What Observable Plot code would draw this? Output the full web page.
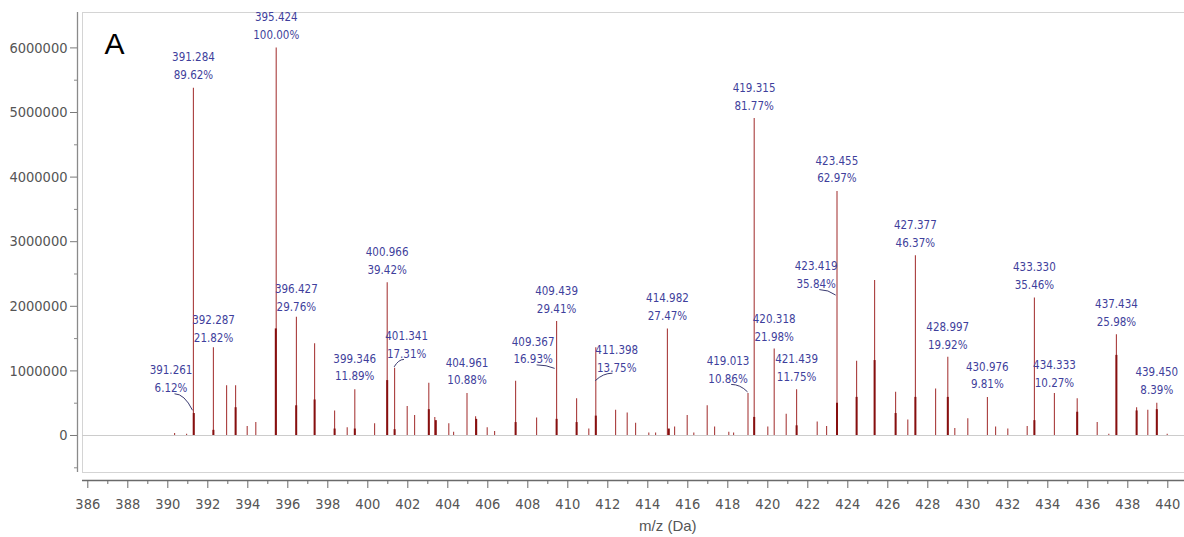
<!DOCTYPE html>
<html><head><meta charset="utf-8">
<script src="https://cdn.jsdelivr.net/npm/d3@7"></script>
<script src="https://cdn.jsdelivr.net/npm/@observablehq/plot@0.6"></script>
<style>
html,body{margin:0;padding:0;background:#fff;}
#chart{width:1184px;height:537px;overflow:hidden;}
</style></head><body><div id="chart"></div>
<script>
// ---- data ----
const peakMz = [390.34,390.94,391.28,392.28,392.94,393.39,393.97,394.40,395.42,396.43,397.34,398.34,398.97,399.35,400.34,400.97,401.34,401.97,402.34,403.05,403.35,404.05,404.29,404.96,405.39,405.97,406.34,407.39,408.44,409.44,410.44,411.05,411.40,412.39,412.97,413.39,414.05,414.39,414.98,415.34,415.97,416.30,416.97,417.34,418.05,418.29,419.01,419.32,420.00,420.32,420.92,421.44,422.47,422.94,423.46,424.44,425.34,426.39,427.00,427.38,428.39,429.00,429.35,430.00,430.98,431.39,432.00,432.97,433.33,434.33,435.47,436.47,437.05,437.43,438.44,439.00,439.45,439.97];
const peakIntensity = [30000,20000,5377000,1360000,770000,770000,140000,200000,6000000,1830000,1420000,380000,120000,710000,180000,2365000,1040000,450000,310000,810000,280000,180000,50000,650000,290000,120000,60000,840000,270000,1765000,570000,100000,1360000,390000,350000,190000,40000,40000,1648000,130000,310000,40000,460000,130000,50000,40000,652000,4906000,130000,1340000,330000,710000,210000,140000,3778000,1150000,2400000,670000,240000,2782000,720000,1210000,110000,260000,590000,130000,100000,140000,2128000,650000,570000,200000,20000,1560000,430000,390000,500000,20000];
const shoulderMz = [391.30,392.28,393.39,395.40,396.42,397.34,398.34,399.35,400.97,401.34,403.05,403.40,405.42,407.39,409.44,410.44,411.40,415.05,419.32,421.44,423.46,424.44,425.34,426.39,427.38,429.00,433.33,435.47,437.43,438.44,439.45];
const shoulderIntensity = [340000,80000,430000,1650000,460000,550000,100000,100000,850000,90000,400000,230000,250000,200000,250000,200000,300000,100000,280000,150000,500000,590000,1160000,340000,590000,590000,230000,360000,1240000,380000,400000];
const labelMz = ["391.261","391.284","392.287","395.424","396.427","399.346","400.966","401.341","404.961","409.367","409.439","411.398","414.982","419.013","419.315","420.318","421.439","423.419","423.455","427.377","428.997","430.976","433.330","434.333","437.434","439.450"];
const labelPct = [6.12,89.62,21.82,100.00,29.76,11.89,39.42,17.31,10.88,16.93,29.41,13.75,27.47,10.86,81.77,21.98,11.75,35.84,62.97,46.37,19.92,9.81,35.46,10.27,25.98,8.39];
const basePeakIntensity = 6000000;
const yTicks = [0,1000000,2000000,3000000,4000000,5000000,6000000];
const yMinorTicks = [-500000,500000,1500000,2500000,3500000,4500000,5500000];
const xTicks = [386,388,390,392,394,396,398,400,402,404,406,408,410,412,414,416,418,420,422,424,426,428,430,432,434,436,438,440];
const xMinorTicks = [387,389,391,393,395,397,399,401,403,405,407,409,411,413,415,417,419,421,423,425,427,429,431,433,435,437,439];
const panelLetter = "A";
const xLabel = "m/z (Da)";

// ---- layout (not data) ----
const callouts = {"391.261":[-22,-19.5],"401.341":[12,-10.5],"409.367":[-22,-6.5],"411.398":[21,-10.5],"419.013":[-20,-10.5],"423.419":[-20,-8.5]};
const narrow = "'DejaVu Sans Condensed','Liberation Sans Narrow',sans-serif";
const labelColor = "#3f3f9c";

const peaks = peakMz.map((mz,i)=>({mz, v: peakIntensity[i]}));
const shoulders = shoulderMz.map((mz,i)=>({mz, v: shoulderIntensity[i]}));
const labels = labelMz.map((t,i)=>({t, mz:+t, pct:labelPct[i], v: labelPct[i]/100*basePeakIntensity}));
const labelText = d => `${d.t}\n${d.pct.toFixed(2)}%`;
const textOpts = {x:"mz", y:"v", text: labelText, fontFamily: narrow, fontSize: 11.5, fill: labelColor, lineHeight: 1.55, lineAnchor: "bottom", textAnchor: "middle"};

const plain = labels.filter(d => !(d.t in callouts));
const calloutMarks = labels.filter(d => d.t in callouts).map(d => Plot.text([d], {...textOpts, dx: callouts[d.t][0], dy: callouts[d.t][1]}));

function connectorMark(index, scales) {
  const g = d3.create("svg:g").attr("fill","none").attr("stroke","#3a3a70").attr("stroke-width",1);
  for (const d of labels) {
    if (!(d.t in callouts)) continue;
    const [dx, dy] = callouts[d.t];
    const px = scales.x(d.mz), py = scales.y(d.v);
    const ex = dx*0.82, ey = dy + 2;
    g.append("path").attr("d", `M ${px} ${py-1} Q ${px+ex*0.45} ${py+ey} ${px+ex} ${py+ey}`);
  }
  return g.node();
}

const chart = Plot.plot({
  width: 1184, height: 537,
  marginLeft: 82, marginRight: 0, marginTop: 12, marginBottom: 65,
  x: {domain: [385.735, 440.835], axis: null},
  y: {domain: [-572800, 6548000], axis: null},
  style: {background: "white", fontFamily: narrow, fontSize: "14px", color: "#4d4d4d"},
  marks: [
    Plot.frame({stroke: "#d4d4d4"}),
    Plot.ruleY([0], {stroke: "#cccccc"}),
    // y axis
    Plot.ruleX([385.735], {dx: -5, stroke: "#8a8a8a", strokeWidth: 1.3}),
    Plot.axisY(yTicks, {anchor: "left", label: null, dx: -5, tickSize: 7, tickPadding: 3, tickFormat: d => d3.format("d")(d), fontSize: 14.5, fontFamily: narrow, color: "#555", stroke: "#7a7a7a"}),
    Plot.axisY(yMinorTicks, {anchor: "left", label: null, dx: -5, tickSize: 3, text: null, stroke: "#8a8a8a"}),
    // x axis
    Plot.ruleY([-572800], {dy: 8, stroke: "#6a6a6a", strokeWidth: 1.3}),
    Plot.axisX(xTicks, {anchor: "bottom", label: null, dy: 8, tickSize: 8, tickPadding: 10, tickFormat: d => String(d), fontSize: 14.5, fontFamily: narrow, color: "#555", stroke: "#6a6a6a"}),
    Plot.axisX(xMinorTicks, {anchor: "bottom", label: null, dy: 8, tickSize: 4, text: null, stroke: "#6a6a6a"}),
    Plot.text([xLabel], {x: 415, frameAnchor: "bottom", dy: 54, fontSize: 15, fontFamily: "'Liberation Sans',sans-serif", fill: "#555", lineAnchor: "middle"}),
    // spectrum
    Plot.ruleX(peaks, {x: "mz", y1: 0, y2: "v", stroke: "#a83c3c", strokeWidth: 1.1}),
    Plot.ruleX(shoulders, {x: "mz", y1: 0, y2: "v", stroke: "#860f0f", strokeWidth: 2}),
    // labels
    Plot.text(plain, {...textOpts, dy: -9}),
    ...calloutMarks,
    connectorMark,
    Plot.text([panelLetter], {frameAnchor: "top-left", dx: 32, dy: 32, fontSize: 30, fontFamily: "'Liberation Sans',sans-serif", fill: "#000", lineAnchor: "middle", textAnchor: "middle"})
  ]
});
document.getElementById("chart").appendChild(chart);
</script></body></html>
